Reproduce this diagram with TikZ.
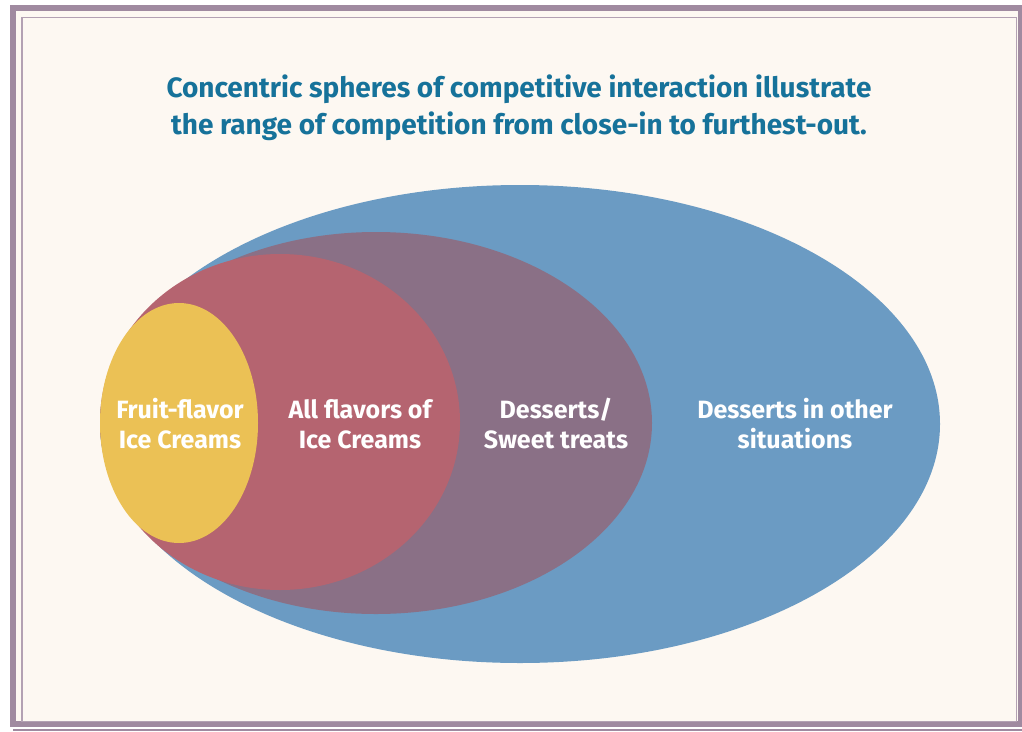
\documentclass[tikz,border=0pt]{standalone}
\usepackage{fontspec}
\setmainfont{Fira Sans}
\definecolor{bg}{HTML}{FDF8F2}
\definecolor{frame}{HTML}{A08AA0}
\definecolor{titleblue}{HTML}{16729A}
\definecolor{eblue}{HTML}{6B9BC3}
\definecolor{epurple}{HTML}{8A7086}
\definecolor{ered}{HTML}{B56470}
\definecolor{eyellow}{HTML}{EBC155}
\begin{document}
\begin{tikzpicture}[x=1pt,y=-1pt,
  lbl/.style={text=white,font=\bfseries\fontsize{25}{30}\selectfont,align=center},
  ttl/.style={text=titleblue,font=\bfseries\fontsize{28}{37}\selectfont,align=center}]
\useasboundingbox (0,0) rectangle (1022,731);
\fill[white] (0,0) rectangle (1022,731);
\fill[bg] (13,8) rectangle (1020,724);
\draw[frame,line width=6pt] (13,8) rectangle (1021,724);
\draw[frame!80,line width=1.8pt] (22,17.5) rectangle (1016.5,721.5);
\draw[frame,line width=2pt] (13,730) -- (1022,730);
\node[ttl] (title) at (519,108) {Concentric spheres of competitive interaction illustrate\\the range of competition from close-in to furthest-out.};
\fill[eblue] (520,424) ellipse [x radius=420, y radius=239];
\fill[epurple] (376,423) ellipse [x radius=276, y radius=191];
\fill[ered] (280,422) ellipse [x radius=180, y radius=168];
\fill[eyellow] (179,423) ellipse [x radius=79, y radius=120];
\node[lbl] (l1) at (180,424) {Fruit-flavor\\Ice Creams};
\node[lbl] (l2) at (360,424) {All flavors of\\Ice Creams};
\node[lbl] (l3) at (556,424) {Desserts/\\Sweet treats};
\node[lbl] (l4) at (795,424) {Desserts in other\\situations};
\end{tikzpicture}
\end{document}
